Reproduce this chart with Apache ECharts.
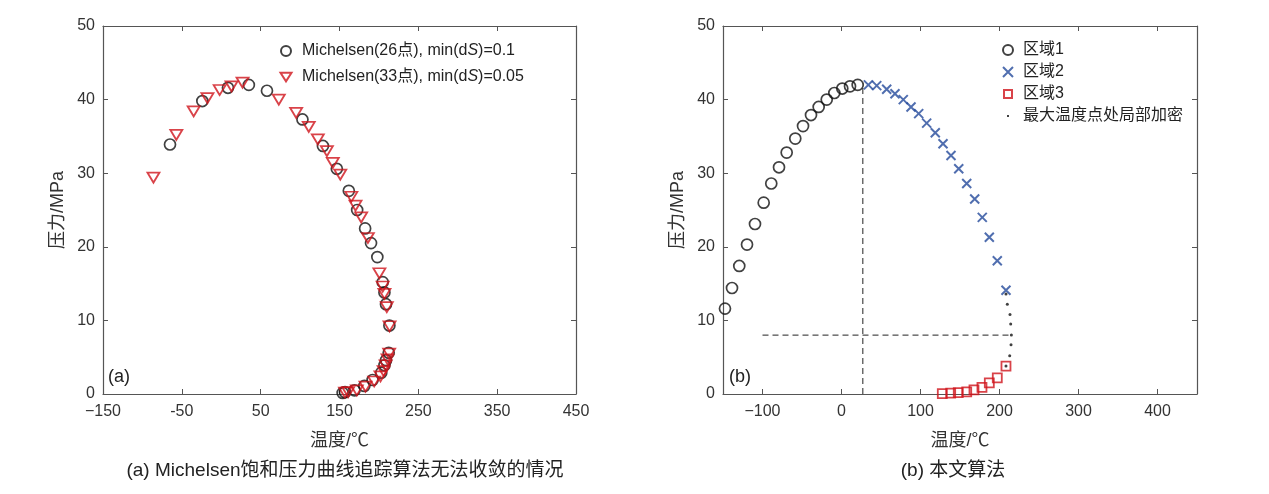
<!DOCTYPE html>
<html>
<head>
<meta charset="utf-8">
<script src="https://cdn.jsdelivr.net/npm/echarts@6/dist/echarts.min.js"></script>
<style>
    html, body { margin: 0; padding: 0; background: #fff; }
    #main { width: 1269px; height: 494px; }
</style>
</head>
<body>
<div id="main"></div>
<script>
// (a) Michelsen 26点 [温度, 压力]
var michelsen26 = [
    [-65, 33.9], [-24, 39.8], [8.5, 41.6], [35, 42.0], [58, 41.2], [103, 37.3],
    [129, 33.7], [146.6, 30.6], [161.8, 27.6], [172.4, 25.0], [182.5, 22.5], [190, 20.5],
    [198, 18.6], [204.8, 15.2], [207, 13.8], [209, 12.2], [213.3, 9.3], [212.4, 5.6],
    [209, 4.6], [207, 3.9], [203, 2.9], [192, 1.9], [181.5, 1.1], [169, 0.5],
    [157, 0.25], [154, 0.15]
];
// (a) Michelsen 33点
var michelsen33 = [
    [-86, 29.4], [-57, 35.2], [-35, 38.4], [-17.5, 40.2], [-2, 41.3], [13, 41.8],
    [27, 42.3], [73, 40.0], [95, 38.2], [111, 36.3], [122.5, 34.6], [134, 33.0],
    [141.5, 31.4], [151, 29.8], [165, 26.8], [170.3, 25.6], [177.5, 24.0], [186, 21.2],
    [200.6, 16.4], [204.8, 14.6], [207, 13.6], [210, 11.8], [213.5, 9.2], [213, 5.5],
    [211, 4.7], [208.5, 3.9], [206, 3.1], [202, 2.4], [194, 1.7], [183, 1.0],
    [172, 0.5], [161, 0.25], [157, 0.2]
];
// (b) 区域1
var region1 = [
    [-147.5, 11.6], [-138.6, 14.4], [-129.4, 17.4], [-119.6, 20.3], [-109.5, 23.1], [-98.5, 26.0],
    [-88.9, 28.6], [-79.1, 30.8], [-69.4, 32.8], [-58.5, 34.7], [-48.7, 36.4], [-38.6, 37.9],
    [-28.9, 39.0], [-18.7, 40.0], [-9.1, 40.9], [1.0, 41.5], [10.8, 41.8], [20.5, 42.0]
];
// (b) 区域2
var region2 = [
    [34, 42.0], [44.6, 41.9], [57.2, 41.4], [67.7, 40.8], [78.2, 40.0], [88, 39.0],
    [97.7, 38.1], [107.8, 36.8], [118.7, 35.5], [128.5, 34.0], [138.6, 32.4], [148.4, 30.6],
    [158.5, 28.6], [168.6, 26.5], [178.2, 24.0], [187.1, 21.3], [197.2, 18.1], [208.2, 14.1]
];
// (b) 区域3
var region3 = [
    [127.6, 0.05], [138.2, 0.12], [147.8, 0.18], [158.5, 0.3], [167.7, 0.55],
    [177.8, 0.9], [187.1, 1.5], [197.2, 2.2], [208.2, 3.8]
];
// (b) 最大温度点处局部加密
var refined = [
    [208.2, 13.6], [209.9, 12.2], [213.3, 10.8], [214.2, 9.5], [215, 8.0],
    [214.6, 6.7], [212.9, 5.2], [208.2, 3.8]
];
// (b) 虚线
var vDash = [[27, 0], [27, 42]];
var hDash = [[-100, 8], [215, 8]];

// 刻度
var ticksA = [-150, -50, 50, 150, 250, 350, 450];
var ticksB = [-100, 0, 100, 200, 300, 400];

var names = {
    m26: 'Michelsen(26点), min(dS)=0.1',
    m33: 'Michelsen(33点), min(dS)=0.05',
    r1: '区域1',
    r2: '区域2',
    r3: '区域3',
    dot: '最大温度点处局部加密'
};

(function () {
    var myCharts = echarts.init(document.getElementById('main'));

    var font = 'Liberation Sans, Arial, Noto Sans CJK SC, sans-serif';
    var axisColor = '#555';
    var black = '#111';
    var red = '#d0141c';
    var blue = '#244a9b';

    function fmtX(v) {
        if (v === -150 || v === -100) return '\u2212' + Math.abs(v);
        return String(v);
    }

    // 主轴 + 顶部/右侧镜像刻度
    function xAxes(gridIndex, ticks) {
        return [{
            type: 'value', gridIndex: gridIndex, min: -150, max: 450, position: 'bottom',
            name: '温度/℃', nameLocation: 'middle', nameGap: 38,
            nameTextStyle: { fontFamily: font, fontSize: 18, color: '#333' },
            axisLine: { onZero: false, lineStyle: { color: axisColor, width: 1.2 } },
            axisTick: { inside: true, length: 5, customValues: ticks, lineStyle: { color: axisColor } },
            axisLabel: { customValues: ticks, formatter: fmtX, fontFamily: font, fontSize: 16, color: '#333', margin: 10 },
            splitLine: { show: false }
        }, {
            type: 'value', gridIndex: gridIndex, min: -150, max: 450, position: 'top',
            axisLine: { show: true, onZero: false, lineStyle: { color: axisColor, width: 1.2 } },
            axisTick: { inside: true, length: 5, customValues: ticks, lineStyle: { color: axisColor } },
            axisLabel: { show: false },
            splitLine: { show: false }
        }];
    }

    function yAxes(gridIndex) {
        return [{
            type: 'value', gridIndex: gridIndex, min: 0, max: 50, interval: 10, position: 'left',
            name: '压力/MPa', nameLocation: 'middle', nameGap: 36, nameRotate: 90,
            nameTextStyle: { fontFamily: font, fontSize: 18, color: '#333' },
            axisLine: { show: true, onZero: false, lineStyle: { color: axisColor, width: 1.2 } },
            axisTick: { inside: true, length: 5, lineStyle: { color: axisColor } },
            axisLabel: { fontFamily: font, fontSize: 16, color: '#333', margin: 8 },
            splitLine: { show: false }
        }, {
            type: 'value', gridIndex: gridIndex, min: 0, max: 50, interval: 10, position: 'right',
            axisLine: { show: true, onZero: false, lineStyle: { color: axisColor, width: 1.2 } },
            axisTick: { inside: true, length: 5, lineStyle: { color: axisColor } },
            axisLabel: { show: false },
            splitLine: { show: false }
        }];
    }

    var hollow = function (c, w) {
        return { color: 'rgba(0,0,0,0)', borderColor: c, borderWidth: w };
    };

    var option = {
        backgroundColor: '#fff',
        animation: false,
        grid: [
            { left: 103, top: 26, width: 473, height: 368 },
            { left: 723, top: 26, width: 474, height: 368 }
        ],
        xAxis: xAxes(0, ticksA).concat(xAxes(1, ticksB)),
        yAxis: yAxes(0).concat(yAxes(1)),
        title: [{
            text: '(a) Michelsen饱和压力曲线追踪算法无法收敛的情况',
            left: 340, top: 456, textAlign: 'center',
            textStyle: { fontFamily: font, fontSize: 19, fontWeight: 'normal', color: '#222' }
        }, {
            text: '(b) 本文算法',
            left: 948, top: 456, textAlign: 'center',
            textStyle: { fontFamily: font, fontSize: 19, fontWeight: 'normal', color: '#222' }
        }],
        graphic: [
            { type: 'text', left: 108, top: 368, style: { text: '(a)', font: '18px ' + font, fill: '#222' } },
            { type: 'text', left: 729, top: 368, style: { text: '(b)', font: '18px ' + font, fill: '#222' } }
        ],
        legend: [{
            orient: 'vertical', left: 274, top: 43, padding: 0,
            itemWidth: 22, itemHeight: 10, itemGap: 10,
            data: [names.m26, {
                name: names.m33,
                icon: 'path://M0,0M22,10M5.5,0.8L16.5,0.8L11,9.4Z'
            }],
            formatter: function (n) { return n.replace('dS', 'd{i|S}'); },
            textStyle: {
                fontFamily: font, fontSize: 16, color: '#222',
                rich: { i: { fontFamily: font, fontSize: 16, fontStyle: 'italic', color: '#222' } }
            }
        }, {
            orient: 'vertical', left: 997, top: 42, padding: 0,
            itemWidth: 20, itemHeight: 10, itemGap: 6,
            data: [names.r1, names.r2, {
                name: names.r3,
                icon: 'path://M0,0M20,10M6,1L14,1L14,9L6,9Z'
            }, {
                name: names.dot,
                icon: 'path://M0,0M20,10M9,4L11,4L11,6L9,6Z'
            }],
            textStyle: { fontFamily: font, fontSize: 16, color: '#222' }
        }],
        series: [{
            name: names.m26, type: 'scatter', xAxisIndex: 0, yAxisIndex: 0,
            symbol: 'circle', symbolSize: 11,
            itemStyle: hollow(black, 1.7),
            data: michelsen26
        }, {
            name: names.m33, type: 'scatter', xAxisIndex: 0, yAxisIndex: 0,
            symbol: 'triangle', symbolSize: [12, 10], symbolRotate: 180,
            itemStyle: hollow(red, 1.8),
            data: michelsen33
        }, {
            type: 'line', xAxisIndex: 2, yAxisIndex: 2, symbol: 'none', silent: true,
            lineStyle: { color: '#222', width: 1, type: [6, 4] },
            data: vDash
        }, {
            type: 'line', xAxisIndex: 2, yAxisIndex: 2, symbol: 'none', silent: true,
            lineStyle: { color: '#222', width: 1, type: [6, 4] },
            data: hDash
        }, {
            name: names.r1, type: 'scatter', xAxisIndex: 2, yAxisIndex: 2,
            symbol: 'circle', symbolSize: 11,
            itemStyle: hollow(black, 1.7),
            data: region1
        }, {
            name: names.r2, type: 'scatter', xAxisIndex: 2, yAxisIndex: 2,
            symbol: 'path://M0,0L10,10M10,0L0,10', symbolSize: 9,
            itemStyle: hollow(blue, 2),
            data: region2
        }, {
            name: names.r3, type: 'scatter', xAxisIndex: 2, yAxisIndex: 2,
            symbol: 'rect', symbolSize: 9,
            itemStyle: hollow(red, 1.8),
            data: region3
        }, {
            name: names.dot, type: 'scatter', xAxisIndex: 2, yAxisIndex: 2,
            symbol: 'circle', symbolSize: 3,
            itemStyle: { color: black },
            data: refined
        }]
    };

    myCharts.setOption(option);
})();
</script>
</body>
</html>
